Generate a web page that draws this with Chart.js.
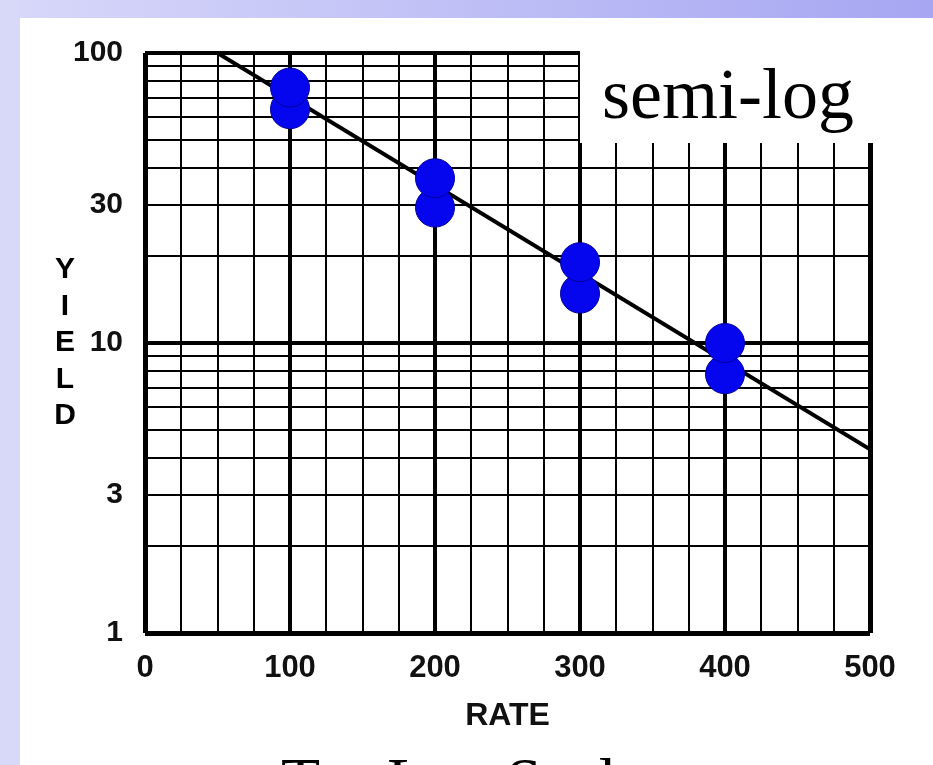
<!DOCTYPE html>
<html>
<head>
<meta charset="utf-8">
<script src="https://cdn.jsdelivr.net/npm/chart.js@4"></script>
<style>
html,body{margin:0;padding:0;overflow:hidden;background:#fff}
#wrap{position:relative;width:933px;height:765px;overflow:hidden}
canvas{display:block}
</style>
</head>
<body>
<div id="wrap"><canvas id="c" width="933" height="765"></canvas></div>
<script>
// ---- data ----
const rateValues  = [100, 100, 200, 200, 300, 300, 400, 400];
const yieldValues = [64, 76, 29.3, 37, 14.8, 19, 7.8, 10];
const fitRate  = [50, 500];
const fitYield = [100, 4.3];
const xTickLabels = [0, 100, 200, 300, 400, 500];
const yTickLabels = [1, 3, 10, 30, 100];
const yGridValues = [1, 2, 3, 4, 5, 6, 7, 8, 9, 10, 20, 30, 40, 50, 60, 70, 80, 90, 100];
const xAxisTitle = 'RATE';
const yAxisTitleLetters = ['Y', 'I', 'E', 'L', 'D'];
const boxLabel = 'semi-log';
const bottomCaption = 'Try Log Scale';

const scatterData = rateValues.map((r, i) => ({x: r, y: yieldValues[i]}));
const lineData = fitRate.map((r, i) => ({x: r, y: fitYield[i]}));

const bgPlugin = {
  id: 'bg',
  beforeDraw(chart) {
    const ctx = chart.ctx;
    ctx.save();
    ctx.fillStyle = '#ffffff';
    ctx.fillRect(0, 0, chart.width, chart.height);
    const g = ctx.createLinearGradient(0, 0, chart.width, 0);
    g.addColorStop(0, '#d8d8fa');
    g.addColorStop(1, '#a6a6f2');
    ctx.fillStyle = g;
    ctx.fillRect(0, 0, chart.width, 18);
    ctx.fillStyle = '#d8d8f8';
    ctx.fillRect(0, 0, 20, chart.height);
    ctx.restore();
  }
};

const textPlugin = {
  id: 'texts',
  afterDraw(chart) {
    const ctx = chart.ctx;
    const ya = chart.scales.y;
    ctx.save();
    // white label box over the grid corner
    ctx.fillStyle = '#ffffff';
    ctx.fillRect(580, 44, 310, 99);
    ctx.fillStyle = '#000000';
    ctx.textAlign = 'left';
    ctx.textBaseline = 'alphabetic';
    ctx.font = '72px "Liberation Serif", "Times New Roman", serif';
    ctx.fillText(boxLabel, 602, 118);
    // stacked Y axis title
    ctx.font = 'bold 30px "Liberation Sans", Arial, sans-serif';
    ctx.textAlign = 'center';
    ctx.textBaseline = 'middle';
    const cy = ya.getPixelForValue(10);
    const step = 36.5;
    yAxisTitleLetters.forEach((ch, i) => {
      ctx.fillText(ch, 65, cy + (i - 2) * step);
    });
    // bottom caption (cut by the frame edge)
    ctx.font = '64px "Liberation Serif", "Times New Roman", serif';
    ctx.textAlign = 'center';
    ctx.textBaseline = 'alphabetic';
    ctx.fillText(bottomCaption, 463, 802);
    ctx.restore();
  }
};

new Chart(document.getElementById('c'), {
  type: 'scatter',
  data: {
    datasets: [
      {
        label: 'data',
        data: scatterData,
        backgroundColor: '#0606ee',
        borderColor: '#00009a',
        borderWidth: 1,
        pointRadius: 19.5,
        pointHoverRadius: 19.5,
        showLine: false,
        order: 0
      },
      {
        type: 'line',
        label: 'fit',
        data: lineData,
        borderColor: '#000000',
        borderWidth: 4,
        pointRadius: 0,
        fill: false,
        tension: 0,
        order: 1
      }
    ]
  },
  options: {
    responsive: false,
    animation: false,
    devicePixelRatio: 1,
    layout: {padding: {left: 0, right: 63, top: 53, bottom: 0}},
    plugins: {legend: {display: false}, tooltip: {enabled: false}},
    scales: {
      x: {
        type: 'linear',
        min: 0,
        max: 500,
        afterFit(s) { s.height = 132; },
        ticks: {
          stepSize: 25,
          autoSkip: false,
          maxRotation: 0,
          padding: 17,
          color: '#111',
          font: {family: '"Liberation Sans", Arial, sans-serif', size: 31, weight: 'bold'},
          callback: (v) => xTickLabels.includes(v) ? String(v) : ''
        },
        grid: {
          drawTicks: false,
          color: '#000',
          lineWidth: (c) => {
            const v = c.tick ? c.tick.value : 0;
            if (v === 0 || v === 500) return 5;
            return v % 100 === 0 ? 4 : 2;
          }
        },
        border: {display: false},
        title: {
          display: true,
          text: xAxisTitle,
          color: '#111',
          font: {family: '"Liberation Sans", Arial, sans-serif', size: 32, weight: 'bold'},
          padding: {top: 0, bottom: 30}
        }
      },
      y: {
        type: 'logarithmic',
        min: 1,
        max: 100,
        afterFit(s) { s.width = 145; },
        afterBuildTicks(s) { s.ticks = yGridValues.map(v => ({value: v})); },
        ticks: {
          autoSkip: false,
          padding: 22,
          color: '#111',
          font: {family: '"Liberation Sans", Arial, sans-serif', size: 30, weight: 'bold'},
          callback: (v) => yTickLabels.includes(v) ? String(v) : ''
        },
        grid: {
          drawTicks: false,
          color: '#000',
          lineWidth: (c) => {
            const v = c.tick ? c.tick.value : 0;
            if (v === 1) return 5;
            if (v === 100 || v === 10) return 4;
            return 2;
          }
        },
        border: {display: false}
      }
    }
  },
  plugins: [bgPlugin, textPlugin]
});
</script>
</body>
</html>
